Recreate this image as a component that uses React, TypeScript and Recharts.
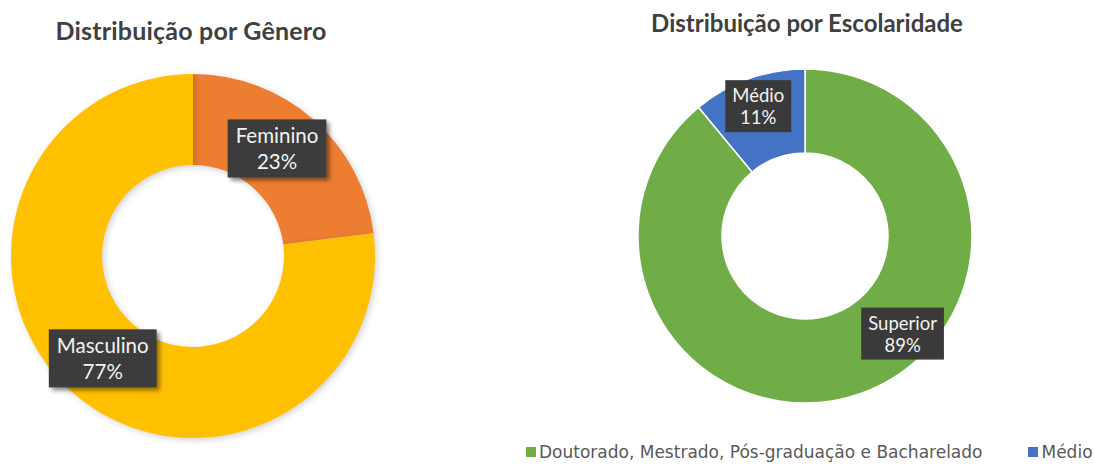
import { PieChart, Pie, Cell, Legend } from "recharts";

// Distribuição por Gênero
const generoLabels = ["Feminino", "Masculino"];
const generoValues = [23, 77];
const generoColors = ["#ED7D31", "#FFC000"];

// Distribuição por Escolaridade
const escolaridadeLabels = ["Superior", "Médio"];
const escolaridadeLegend = ["Doutorado, Mestrado, Pós-graduação e Bacharelado", "Médio"];
const escolaridadeValues = [89, 11];
const escolaridadeColors = ["#70AD47", "#4472C4"];

const generoData = generoLabels.map((label, i) => ({
  label,
  name: label,
  value: generoValues[i],
}));

const escolaridadeData = escolaridadeLabels.map((label, i) => ({
  label,
  name: escolaridadeLegend[i],
  value: escolaridadeValues[i],
}));

const RADIAN = Math.PI / 180;
const FONT = "Lato, 'Open Sans', sans-serif";
const NO_MARGIN = { top: 0, right: 0, bottom: 0, left: 0 };

let canvasCtx: CanvasRenderingContext2D | null = null;
function measure(text: string, font: string) {
  if (!canvasCtx) canvasCtx = document.createElement("canvas").getContext("2d");
  if (!canvasCtx) return text.length * 9;
  canvasCtx.font = font;
  return canvasCtx.measureText(text).width;
}

interface LabelStyle {
  fontSize: number;
  lineGap: number;
  height: number;
  padX: number;
  textured: boolean;
  // label dragged away from its slice middle, as in the original sheet
  angleOverride?: Record<number, number>;
  radiusShift?: number;
}

function makeLabel(style: LabelStyle) {
  return (props: any) => {
    const { cx, cy, midAngle, innerRadius, outerRadius, index, payload, value } = props;
    const angle = style.angleOverride?.[index] ?? midAngle;
    const r = (innerRadius + outerRadius) / 2 + (style.radiusShift ?? 0);
    const x = cx + r * Math.cos(-angle * RADIAN);
    const y = cy + r * Math.sin(-angle * RADIAN);
    const line1 = payload?.label ?? props.name;
    const line2 = `${value}%`;
    const font = `${style.fontSize}px ${FONT}`;
    const w = Math.max(measure(line1, font), measure(line2, font)) + style.padX * 2;
    const h = style.height;
    return (
      <g>
        <rect
          x={x - w / 2}
          y={y - h / 2}
          width={w}
          height={h}
          fill="#3a3a3a"
          filter={style.textured ? "url(#labelShadow)" : undefined}
        />
        {style.textured && (
          <rect x={x - w / 2} y={y - h / 2} width={w} height={h} fill="url(#dots)" />
        )}
        <text
          x={x}
          y={y - style.lineGap / 2}
          textAnchor="middle"
          dominantBaseline="central"
          fill="#F2F2F2"
          fontSize={style.fontSize}
          fontFamily={FONT}
        >
          {line1}
        </text>
        <text
          x={x}
          y={y + style.lineGap / 2}
          textAnchor="middle"
          dominantBaseline="central"
          fill="#F2F2F2"
          fontSize={style.fontSize}
          fontFamily={FONT}
        >
          {line2}
        </text>
      </g>
    );
  };
}

const generoLabel = makeLabel({
  fontSize: 20.5,
  lineGap: 26,
  height: 58,
  padX: 8,
  textured: true,
  angleOverride: { 0: 52 },
});

const escolaridadeLabel = makeLabel({
  fontSize: 18.5,
  lineGap: 22,
  height: 52,
  padX: 7,
  textured: false,
  angleOverride: { 0: -45 },
  radiusShift: 13,
});

function EscolaridadeLegend(props: any) {
  const { payload } = props;
  return (
    <div
      style={{
        display: "flex",
        alignItems: "center",
        fontFamily: "'DejaVu Sans', sans-serif",
        fontSize: 17,
        color: "#595959",
        whiteSpace: "nowrap",
      }}
    >
      {(payload ?? []).map((entry: any, i: number) => (
        <div key={i} style={{ display: "flex", alignItems: "center", marginRight: 46 }}>
          <span
            style={{ display: "inline-block", width: 10, height: 10, background: entry.color, marginRight: 3 }}
          />
          <span>{entry.value}</span>
        </div>
      ))}
    </div>
  );
}

export default function App() {
  return (
    <div
      style={{ position: "absolute", left: 0, top: 0, width: 1094, height: 464, background: "#fff", overflow: "hidden" }}
    >
      <div style={{ position: "absolute", left: 0, top: 0 }}>
        <PieChart width={420} height={464} margin={NO_MARGIN}>
          <defs>
            <pattern id="dots" width="4" height="4" patternUnits="userSpaceOnUse">
              <rect x="1" y="1" width="1" height="1" fill="#4d4d4d" />
            </pattern>
            <filter id="labelShadow" x="-20%" y="-20%" width="150%" height="160%">
              <feDropShadow dx="3" dy="3" stdDeviation="2" floodColor="#000" floodOpacity="0.45" />
            </filter>
          </defs>
          <Pie
            data={generoData}
            dataKey="value"
            nameKey="name"
            cx={193}
            cy={256}
            innerRadius={91}
            outerRadius={182}
            startAngle={90}
            endAngle={-270}
            stroke="none"
            label={generoLabel}
            labelLine={false}
            isAnimationActive={false}
            style={{ filter: "drop-shadow(2px 2px 3px rgba(0,0,0,0.18))" }}
          >
            {generoData.map((_, i) => (
              <Cell key={i} fill={generoColors[i]} />
            ))}
          </Pie>
        </PieChart>
      </div>
      <div style={{ position: "absolute", left: 500, top: 0 }}>
        <PieChart width={594} height={464} margin={NO_MARGIN}>
          <Pie
            data={escolaridadeData}
            dataKey="value"
            nameKey="name"
            cx={305}
            cy={236}
            innerRadius={83}
            outerRadius={167}
            startAngle={90}
            endAngle={-270}
            stroke="#fff"
            strokeWidth={1.5}
            label={escolaridadeLabel}
            labelLine={false}
            isAnimationActive={false}
          >
            {escolaridadeData.map((_, i) => (
              <Cell key={i} fill={escolaridadeColors[i]} />
            ))}
          </Pie>
          <Legend
            content={<EscolaridadeLegend />}
            wrapperStyle={{ position: "absolute", left: 26, top: 442, width: 568 }}
          />
        </PieChart>
      </div>
      <svg width={1094} height={60} style={{ position: "absolute", left: 0, top: 0, pointerEvents: "none" }}>
        <text
          x={191}
          y={40}
          textAnchor="middle"
          fontFamily={FONT}
          fontWeight={700}
          fontSize={25}
          letterSpacing={0.2}
          fill="#404040"
        >
          Distribuição por Gênero
        </text>
        <text
          x={807}
          y={32}
          textAnchor="middle"
          fontFamily={FONT}
          fontWeight={700}
          fontSize={24}
          letterSpacing={0}
          fill="#404040"
        >
          Distribuição por Escolaridade
        </text>
      </svg>
    </div>
  );
}
